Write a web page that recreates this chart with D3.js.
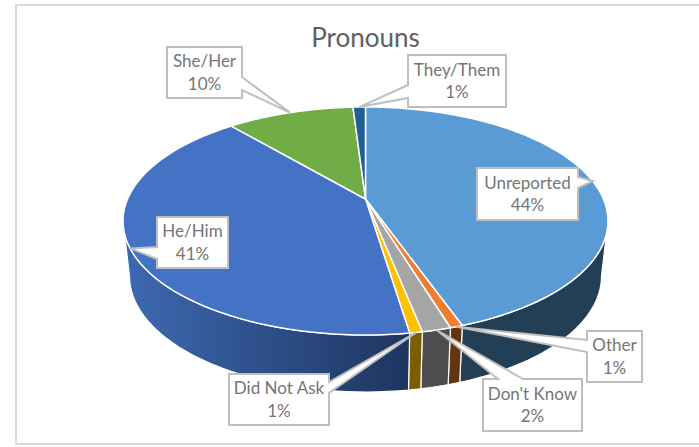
<!DOCTYPE html>
<html><head><meta charset="utf-8">
<style>html,body{margin:0;padding:0;background:#fff}svg{display:block}text{font-family:Lato,"Open Sans",sans-serif}</style>
<script src="https://cdn.jsdelivr.net/npm/d3@7/dist/d3.min.js"></script>
</head><body><svg id="c" width="699" height="447"></svg>
<script>
const categories = ["Unreported","Other","Don't Know","Did Not Ask","He/Him","She/Her","They/Them"];
const shares = [44.6,0.7,1.6,0.7,41.2,10.2,1.0];
const percentLabels = ["44%","1%","2%","1%","41%","10%","1%"];
const topColors = ["#5B9BD5","#ED7D31","#A5A5A5","#FFC000","#4472C4","#70AD47","#255E91"];
const wallColors = ["#233F56","#633511","#4D4D4D","#7A5E00","url(#heWall)","#3F6329","#163856"];
const titleText = "Pronouns";

const W=699,H=447;
const face={cx:365.5,cy:221,rx:242.5,ry:114};
const bot={cx:365.5,cy:276,rx:236,ry:116};
const d=(face.cy-199)/face.ry; // perspective shift of the pie's centre

// callout boxes [x0,y0,x1,y1] and the two points where the tail leaves the box
const boxes=[
 {b:[477,168,578,220],t:[[578,177],[578,188]]},
 {b:[587,331,642,382],t:[[587,340],[587,352]]},
 {b:[483,379,582,431],t:[[498,379],[523,379]]},
 {b:[229,374,329,425],t:[[329,382],[329,393]]},
 {b:[157,217,228,268],t:[[157,247],[157,259]]},
 {b:[167,47,242,98],t:[[242,77],[242,90]]},
 {b:[408,55,506,107],t:[[408,85],[408,98]]}
];

const svg=d3.select("#c");
const grad=svg.append("defs").append("linearGradient").attr("id","heWall")
  .attr("gradientUnits","userSpaceOnUse").attr("x1",130).attr("x2",408).attr("y1",0).attr("y2",0);
grad.append("stop").attr("offset",0).attr("stop-color","#3D68B0");
grad.append("stop").attr("offset",1).attr("stop-color","#1E3560");

// frame
svg.append("path").attr("d",`M${W},5H16V444H${W}`).attr("fill","none").attr("stroke","#D9D9D9").attr("stroke-width",2);

const pie=d3.pie().sort(null).value(v=>v)(shares);
// true pie angle -> angle on the projected ellipse
function proj(a){
  const x=Math.sin(a),y=Math.cos(a),den=1+d*y;
  const xp=x*Math.sqrt(1-d*d)/den, yp=(y+d)/den;
  let phi=Math.atan2(xp,yp); if(phi<0) phi+=2*Math.PI;
  if(a>=2*Math.PI-1e-9) phi=2*Math.PI;
  return phi;
}
const on=(e,phi)=>[e.cx+e.rx*Math.sin(phi),e.cy-e.ry*Math.cos(phi)];
const line=d3.line();

// walls
const wallG=svg.append("g");
pie.forEach((s,i)=>{
  const a=Math.max(proj(s.startAngle),Math.PI/2),b=Math.min(proj(s.endAngle),1.5*Math.PI);
  if(b<=a) return;
  const ph=d3.range(0,41).map(k=>a+(b-a)*k/40);
  const pts=ph.map(p=>on(face,p)).concat(ph.slice().reverse().map(p=>on(bot,p)));
  wallG.append("path").attr("d",line(pts)+"Z").attr("fill",wallColors[i])
    .attr("stroke","#fff").attr("stroke-width",1.2).attr("stroke-linejoin","round");
});

// top faces
const apex=[face.cx,face.cy-d*face.ry];
const faceG=svg.append("g");
pie.forEach((s,i)=>{
  const a=proj(s.startAngle),b=proj(s.endAngle);
  const pts=[apex].concat(d3.range(0,61).map(k=>on(face,a+(b-a)*k/60)));
  faceG.append("path").attr("d",line(pts)+"Z").attr("fill",topColors[i])
    .attr("stroke","#fff").attr("stroke-width",1.5).attr("stroke-linejoin","round");
});

// title
svg.append("text").attr("x",365.5).attr("y",46.5).attr("text-anchor","middle")
  .attr("font-size",26).attr("fill","#606060").text(titleText);

// callouts
pie.forEach((s,i)=>{
  const {b,t}=boxes[i];
  const tip=on(face,proj((s.startAngle+s.endAngle)/2));
  const [x0,y0,x1,y1]=b;
  let ring;
  if(t[0][0]===x1) ring=[[x0,y0],[x1,y0],t[0],tip,t[1],[x1,y1],[x0,y1]];
  else if(t[0][0]===x0) ring=[[x0,y0],[x1,y0],[x1,y1],[x0,y1],t[1],tip,t[0]];
  else ring=[[x0,y0],t[0],tip,t[1],[x1,y0],[x1,y1],[x0,y1]];
  svg.append("path").attr("d",line(ring)+"Z").attr("fill","#fff")
    .attr("stroke","#BFBFBF").attr("stroke-width",2).attr("stroke-linejoin","miter");
  const cx=(x0+x1)/2,cy=(y0+y1)/2;
  const tx=svg.append("text").attr("text-anchor","middle").attr("font-size",17).attr("fill","#757575");
  tx.append("tspan").attr("x",cx).attr("y",cy-5.5).text(categories[i]);
  tx.append("tspan").attr("x",cx).attr("y",cy+17).text(percentLabels[i]);
});
</script></body></html>
